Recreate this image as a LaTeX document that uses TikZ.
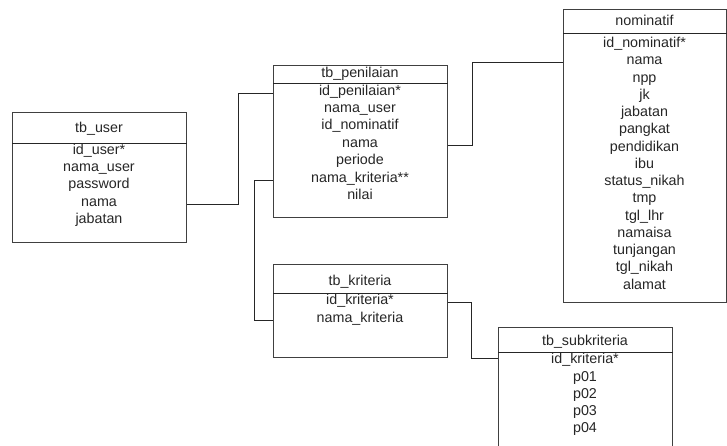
\documentclass[tikz,border=0pt]{standalone}
\usepackage{fontspec}
\setmainfont{Liberation Sans}
\begin{document}
\begin{tikzpicture}[x=1pt,y=-1pt,
  tbl/.style={draw=black!75, line width=0.8pt, rectangle, inner sep=0pt, anchor=north west},
  row/.style={inner sep=0pt, anchor=center, text height=0.7em, text depth=0.2em, text=black!85, font=\fontsize{14.3}{16}\selectfont},
  link/.style={draw=black!85, line width=0.8pt},
  sep/.style={draw=black!85, line width=0.8pt}]
\useasboundingbox (0,0) rectangle (727,445);
\clip (0,0) rectangle (727,445);
% tb_user
\node[tbl, minimum width=174pt, minimum height=130pt] (user) at (12,112) {};
\draw[sep] ([yshift=-31pt]user.north west) -- ([yshift=-31pt]user.north east);
\node[row] (ut) at (99,130) {tb\_user};
\node[row] (uid) at (99,152) {id\_user*};
\node[row] (unu) at (99,169) {nama\_user};
\node[row] (upw) at (99,186) {password};
\node[row] (unama) at (99,204) {nama};
\node[row] (ujab) at (99,221) {jabatan};
% tb_penilaian
\node[tbl, minimum width=174pt, minimum height=152pt] (pen) at (273,65) {};
\draw[sep] ([yshift=-18pt]pen.north west) -- ([yshift=-18pt]pen.north east);
\node[row] (pt) at (360,75) {tb\_penilaian};
\node[row] (pid) at (360,93) {id\_penilaian*};
\node[row] (pnu) at (360,110) {nama\_user};
\node[row] (pidn) at (360,127) {id\_nominatif};
\node[row] (pnama) at (360,145) {nama};
\node[row] (pper) at (360,162) {periode};
\node[row] (pnk) at (360,180) {nama\_kriteria**};
\node[row] (pnil) at (360,197) {nilai};
% nominatif
\node[tbl, minimum width=163pt, minimum height=293pt] (nom) at (563,9) {};
\draw[sep] ([yshift=-24pt]nom.north west) -- ([yshift=-24pt]nom.north east);
\node[row] (nt) at (644.5,23) {nominatif};
\foreach \t [count=\i] in {id\_nominatif*,nama,npp,jk,jabatan,pangkat,pendidikan,ibu,status\_nikah,tmp,tgl\_lhr,namaisa,tunjangan,tgl\_nikah,alamat}
  \node[row] (n\i) at (644.5,{45+(\i-1)*17.25}) {\t};
% tb_kriteria
\node[tbl, minimum width=174pt, minimum height=93pt] (kri) at (273,264) {};
\draw[sep] ([yshift=-29pt]kri.north west) -- ([yshift=-29pt]kri.north east);
\node[row] (kt) at (360,283) {tb\_kriteria};
\node[row] (kid) at (360,302) {id\_kriteria*};
\node[row] (knama) at (360,320) {nama\_kriteria};
% tb_subkriteria
\node[tbl, minimum width=174pt, minimum height=140pt] (sub) at (498,327) {};
\draw[sep] ([yshift=-25pt]sub.north west) -- ([yshift=-25pt]sub.north east);
\node[row] (st) at (585,343) {tb\_subkriteria};
\node[row] (sid) at (585,361) {id\_kriteria*};
\node[row] (s1) at (585,379) {p01};
\node[row] (s2) at (585,396) {p02};
\node[row] (s3) at (585,413) {p03};
\node[row] (s4) at (585,430) {p04};
\coordinate (sin) at ([yshift=-31pt]sub.north west);
% connectors
\draw[link] (user.east |- unama) -- ++(52,0) |- (pen.west |- pid);
\draw[link] (pen.west |- pnk) -- ++(-19,0) |- (kri.west |- knama);
\draw[link] (pen.east |- pnama) -- ++(25,0) |- (nom.west |- n2);
\draw[link] (kri.east |- kid) -- ++(24,0) |- (sin);
\end{tikzpicture}
\end{document}
